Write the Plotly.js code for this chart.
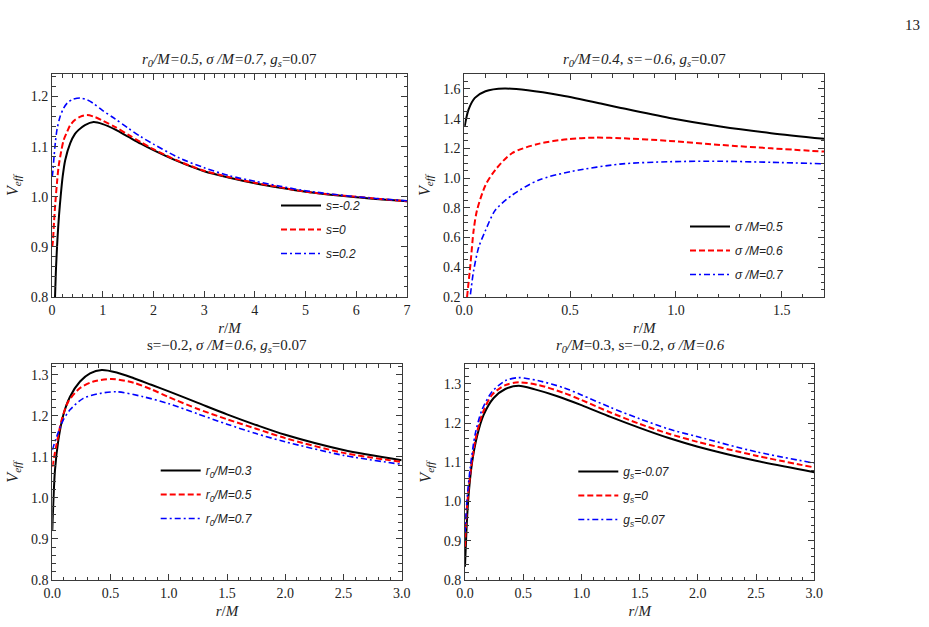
<!DOCTYPE html>
<html>
<head>
<meta charset="utf-8">
<script src="https://cdn.plot.ly/plotly-3.0.1.min.js"></script>
<style>html,body{margin:0;padding:0;background:#fff;}#chart{width:929px;height:627px;}</style>
</head>
<body>
<div id="chart"></div>
<script>
// ---- Panel (a): r0/M=0.5, sigma/M=0.7, gs=0.07 ; varying s
const aNames = ["s=-0.2", "s=0", "s=0.2"];
const aR1 = [0.06,0.08,0.11,0.14,0.17,0.21,0.26,0.36,0.45,0.52,0.65,0.82,1.0,1.25,1.5,1.75,2.0,2.5,3.0,3.5,4.0,4.5,5,6,7];
const aV1 = [0.80,0.86,0.92,0.965,1.0,1.04,1.073,1.107,1.125,1.133,1.143,1.149,1.145,1.134,1.12,1.106,1.093,1.07,1.051,1.038,1.027,1.018,1.01,0.999,0.991];
const aR2 = [0.005,0.02,0.04,0.065,0.1,0.13,0.18,0.23,0.3,0.36,0.45,0.56,0.69,0.85,1.0,1.25,1.5,1.75,2.0,2.5,3.0,3.5,4.0,4.5,5,6,7];
const aV2 = [0.90,0.913,0.95,0.987,1.03,1.06,1.09,1.113,1.13,1.143,1.153,1.16,1.163,1.159,1.152,1.139,1.124,1.109,1.095,1.071,1.052,1.039,1.028,1.019,1.01,1.0,0.991];
const aR3 = [0.005,0.02,0.04,0.065,0.1,0.16,0.22,0.3,0.4,0.56,0.7,0.82,1.0,1.25,1.5,1.75,2.0,2.5,3.0,3.5,4.0,4.5,5,6,7];
const aV3 = [1.04,1.053,1.08,1.107,1.135,1.16,1.175,1.187,1.194,1.197,1.193,1.186,1.172,1.155,1.137,1.12,1.105,1.078,1.058,1.042,1.031,1.021,1.012,1.0,0.992];

// ---- Panel (b): r0/M=0.4, s=-0.6, gs=0.07 ; varying sigma/M
const bNames = ["σ /M=0.5", "σ /M=0.6", "σ /M=0.7"];
const bR1 = [0.002,0.02,0.05,0.1,0.19,0.3,0.46,0.65,0.74,0.97,1.21,1.45,1.7];
const bV1 = [1.35,1.46,1.539,1.584,1.602,1.59,1.555,1.50,1.472,1.404,1.347,1.302,1.264];
const bR2 = [0.013,0.029,0.044,0.06,0.1,0.146,0.225,0.35,0.49,0.62,0.74,0.97,1.21,1.45,1.7];
const bV2 = [0.2,0.42,0.647,0.783,0.952,1.054,1.167,1.23,1.262,1.272,1.268,1.25,1.223,1.2,1.178];
const bR3 = [0.029,0.044,0.068,0.1,0.146,0.225,0.35,0.508,0.736,0.97,1.21,1.45,1.7];
const bV3 = [0.218,0.376,0.534,0.647,0.783,0.884,0.986,1.045,1.094,1.11,1.113,1.106,1.096];

// ---- Panel (c): s=-0.2, sigma/M=0.6, gs=0.07 ; varying r0/M
const cNames = ["r<sub>0</sub>/M=0.3", "r<sub>0</sub>/M=0.5", "r<sub>0</sub>/M=0.7"];
const cR1 = [0.0,0.003,0.023,0.052,0.094,0.152,0.238,0.324,0.424,0.553,0.7,0.85,1.0,1.25,1.5,1.75,2.0,2.5,3.0];
const cV1 = [0.92,0.946,1.068,1.141,1.202,1.247,1.284,1.304,1.312,1.306,1.292,1.276,1.26,1.232,1.204,1.178,1.154,1.117,1.092];
const cR2 = [0.0,0.038,0.08,0.137,0.238,0.352,0.51,0.7,0.85,1.0,1.25,1.5,1.75,2.0,2.5,3.0];
const cV2 = [1.076,1.133,1.19,1.235,1.268,1.284,1.29,1.281,1.265,1.246,1.217,1.192,1.169,1.146,1.11,1.088];
const cR3 = [0.0,0.038,0.094,0.152,0.266,0.41,0.553,0.78,1.0,1.25,1.5,1.75,2.0,2.5,3.0];
const cV3 = [1.117,1.15,1.19,1.215,1.243,1.255,1.259,1.247,1.23,1.205,1.18,1.157,1.137,1.104,1.082];

// ---- Panel (d): r0/M=0.3, s=-0.2, sigma/M=0.6 ; varying gs
const dNames = ["g<sub>s</sub>=-0.07", "g<sub>s</sub>=0", "g<sub>s</sub>=0.07"];
const dR1 = [0.0,0.017,0.032,0.06,0.103,0.16,0.246,0.346,0.461,0.6,0.8,1.0,1.25,1.5,1.75,2.0,2.5,3.0];
const dV1 = [0.834,0.953,1.021,1.098,1.166,1.221,1.264,1.287,1.295,1.286,1.268,1.246,1.216,1.188,1.162,1.14,1.104,1.075];
const dR2 = [0.0,0.017,0.046,0.089,0.146,0.232,0.346,0.461,0.633,0.85,1.0,1.25,1.5,1.75,2.0,2.5,3.0];
const dV2 = [0.885,0.987,1.072,1.157,1.221,1.272,1.297,1.304,1.297,1.277,1.259,1.227,1.198,1.173,1.152,1.117,1.087];
const dR3 = [0.0,0.017,0.046,0.089,0.146,0.232,0.346,0.461,0.633,0.85,1.0,1.25,1.5,1.75,2.0,2.5,3.0];
const dV3 = [0.919,1.004,1.089,1.174,1.234,1.28,1.308,1.316,1.308,1.29,1.272,1.24,1.211,1.185,1.165,1.127,1.098];

const panelTitles = [
  "<i>r<sub>0</sub>/M=0.5, σ /M=0.7, g<sub>s</sub></i>=0.07",
  "<i>r<sub>0</sub>/M=0.4, s=−0.6, g<sub>s</sub></i>=0.07",
  "s=−0.2, <i>σ /M=0.6, g<sub>s</sub></i>=0.07",
  "<i>r<sub>0</sub>/M</i>=0.3, s=−0.2, <i>σ /M=0.6</i>"
];

const styles = [
  {color:"#000000", width:2, dash:"solid"},
  {color:"#ff0000", width:2, dash:"6px,3px"},
  {color:"#0000ff", width:1.6, dash:"6px,3px,2px,3px"}
];

const W = 929, H = 627;
const px = v => v / W;
const py = v => 1 - v / H;

const panels = [
  {xs:[aR1,aR2,aR3], ys:[aV1,aV2,aV3], names:aNames, xa:"x", ya:"y", leg:"legend"},
  {xs:[bR1,bR2,bR3], ys:[bV1,bV2,bV3], names:bNames, xa:"x2", ya:"y2", leg:"legend2"},
  {xs:[cR1,cR2,cR3], ys:[cV1,cV2,cV3], names:cNames, xa:"x3", ya:"y3", leg:"legend3"},
  {xs:[dR1,dR2,dR3], ys:[dV1,dV2,dV3], names:dNames, xa:"x4", ya:"y4", leg:"legend4"}
];

const traces = [];
panels.forEach((p, pi) => {
  for (let i = 0; i < 3; i++) {
    traces.push({
      type:"scatter", mode:"lines",
      x:p.xs[i], y:p.ys[i], name:p.names[i],
      xaxis:p.xa, yaxis:p.ya, legend:p.leg,
      legendgroup:"g" + pi + "_" + i,
      line:Object.assign({shape:"spline", smoothing:0.8}, styles[i]),
      hoverinfo:"skip"
    });
  }
});

const serif = "Liberation Serif, Times New Roman, serif";
const frameColor = "#3a3a3a";
const tickFont = {family:serif, size:14, color:"#222"};
const titleFont = {family:serif, size:15, color:"#222"};

function xaxis(domain, range, dtick, minor, fmt, anchor) {
  return {
    domain:domain, range:range, dtick:dtick, tick0:0, tickformat:fmt,
    ticks:"inside", ticklen:6, tickwidth:1, tickcolor:frameColor,
    showline:true, linecolor:frameColor, linewidth:1, mirror:"ticks",
    showgrid:false, zeroline:false, anchor:anchor,
    minor:{dtick:minor, tick0:0, ticks:"inside", ticklen:3.5, tickwidth:1, tickcolor:frameColor, showgrid:false},
    tickfont:tickFont,
    title:{text:"<i>r</i>/<i>M</i>", font:titleFont, standoff:5}
  };
}
function yaxis(domain, range, dtick, minor, fmt, anchor) {
  return {
    domain:domain, range:range, dtick:dtick, tick0:0, tickformat:fmt,
    ticks:"inside", ticklen:6, tickwidth:1, tickcolor:frameColor,
    showline:true, linecolor:frameColor, linewidth:1, mirror:"ticks",
    showgrid:false, zeroline:false, anchor:anchor,
    minor:{dtick:minor, tick0:0, ticks:"inside", ticklen:3.5, tickwidth:1, tickcolor:frameColor, showgrid:false},
    tickfont:tickFont,
    title:{text:"<i>V</i><sub><i>eff</i></sub>", font:{family:serif, size:16, color:"#222"}, standoff:8}
  };
}

const topDom = [py(297), py(74)];
const botDom = [py(580), py(364.3)];

const legFont = {family:"Liberation Sans, Arial, sans-serif", size:12, color:"#222", style:"italic"};
function legend(xpx, ypx) {
  return {x:px(xpx), y:py(ypx), xanchor:"left", yanchor:"top", xref:"paper", yref:"paper",
    bgcolor:"rgba(0,0,0,0)", borderwidth:0, font:legFont, itemwidth:40,
    traceorder:"grouped", tracegroupgap:5, itemclick:false, itemdoubleclick:false};
}

const annotations = [
  {text:panelTitles[0], x:px(229), y:py(60), xref:"paper", yref:"paper", showarrow:false, font:titleFont, xanchor:"center", yanchor:"middle"},
  {text:panelTitles[1], x:px(644), y:py(60), xref:"paper", yref:"paper", showarrow:false, font:titleFont, xanchor:"center", yanchor:"middle"},
  {text:panelTitles[2], x:px(227), y:py(346), xref:"paper", yref:"paper", showarrow:false, font:titleFont, xanchor:"center", yanchor:"middle"},
  {text:panelTitles[3], x:px(640), y:py(346), xref:"paper", yref:"paper", showarrow:false, font:titleFont, xanchor:"center", yanchor:"middle"},
  {text:"13", x:px(912), y:py(25), xref:"paper", yref:"paper", showarrow:false, font:{family:serif, size:15, color:"#222"}, xanchor:"center", yanchor:"middle"}
];

const layout = {
  width:W, height:H,
  font:{family:serif, size:14, color:"#222"},
  margin:{l:0, r:0, t:0, b:0},
  paper_bgcolor:"#ffffff", plot_bgcolor:"#ffffff",
  showlegend:true,
  xaxis:  xaxis([px(52), px(407)], [0, 7], 1, 0.2, "d", "y"),
  yaxis:  yaxis(topDom, [0.8, 1.245], 0.1, 0.02, ".1f", "x"),
  xaxis2: xaxis([px(464.3), px(824)], [0, 1.7], 0.5, 0.1, ".1f", "y2"),
  yaxis2: yaxis(topDom, [0.2, 1.7], 0.2, 0.05, ".1f", "x2"),
  xaxis3: xaxis([px(52.3), px(401.7)], [0, 3], 0.5, 0.1, ".1f", "y3"),
  yaxis3: yaxis(botDom, [0.8, 1.326], 0.1, 0.02, ".1f", "x3"),
  xaxis4: xaxis([px(465), px(814.3)], [0, 3], 0.5, 0.1, ".1f", "y4"),
  yaxis4: yaxis(botDom, [0.8, 1.35], 0.1, 0.02, ".1f", "x4"),
  legend:  legend(276, 191),
  legend2: legend(685, 212),
  legend3: legend(155.7, 456),
  legend4: legend(573.3, 457),
  annotations:annotations
};

Plotly.newPlot("chart", traces, layout, {staticPlot:true, displayModeBar:false});
</script>
</body>
</html>
